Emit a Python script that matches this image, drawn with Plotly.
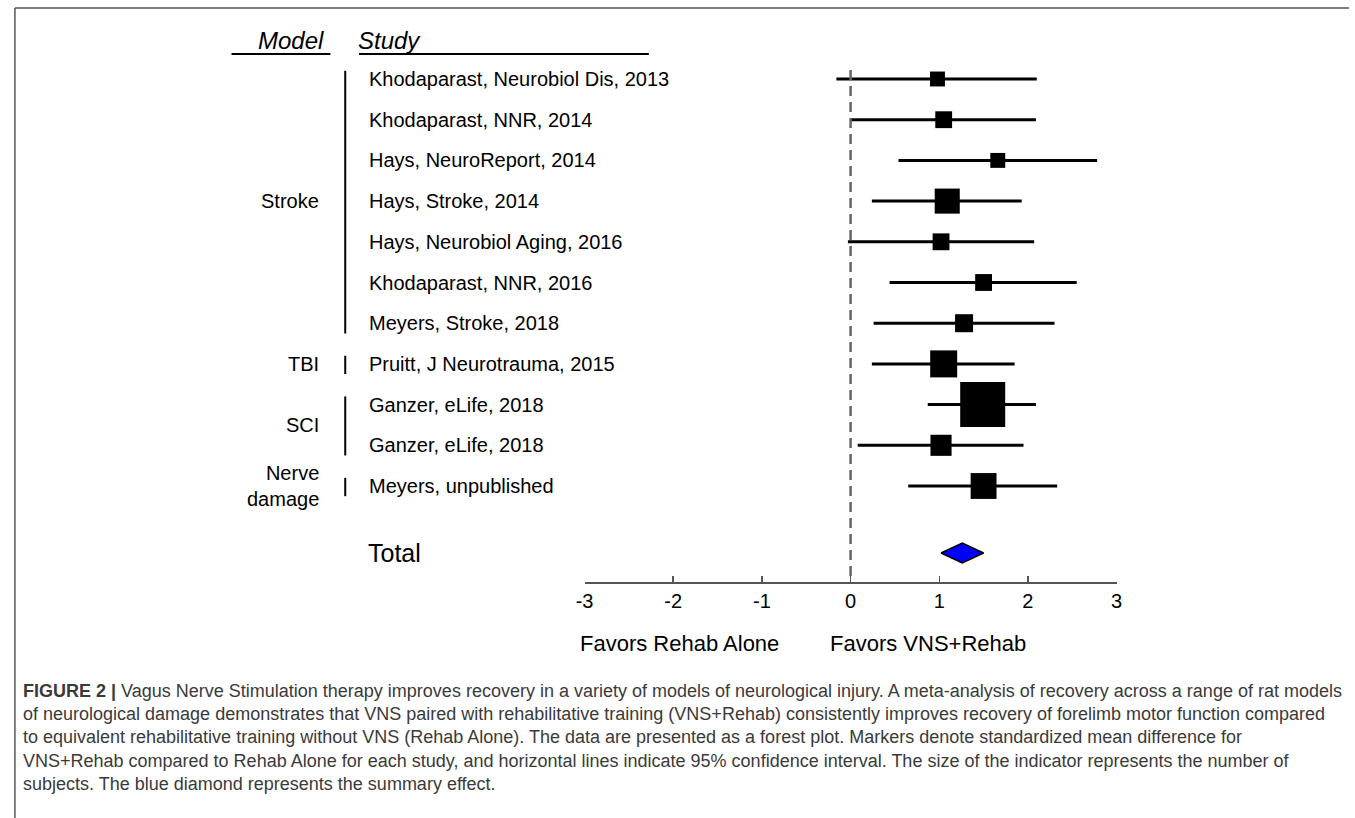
import numpy as np
import plotly.graph_objects as go

# === Data ===
studies = [
    "Khodaparast, Neurobiol Dis, 2013",
    "Khodaparast, NNR, 2014",
    "Hays, NeuroReport, 2014",
    "Hays, Stroke, 2014",
    "Hays, Neurobiol Aging, 2016",
    "Khodaparast, NNR, 2016",
    "Meyers, Stroke, 2018",
    "Pruitt, J Neurotrauma, 2015",
    "Ganzer, eLife, 2018",
    "Ganzer, eLife, 2018",
    "Meyers, unpublished",
]
smd = [0.98, 1.05, 1.66, 1.09, 1.02, 1.50, 1.28, 1.05, 1.49, 1.02, 1.50]
ci_lo = [-0.16, 0.00, 0.54, 0.24, -0.03, 0.44, 0.26, 0.24, 0.87, 0.08, 0.65]
ci_hi = [2.10, 2.09, 2.78, 1.93, 2.07, 2.55, 2.30, 1.85, 2.09, 1.95, 2.33]
n_subjects = [11, 14, 11, 31, 14, 14, 16, 36, 100, 22, 33]

# model groups: label, first row, last row (1-based)
groups = [
    ("Stroke", 1, 7),
    ("TBI", 8, 8),
    ("SCI", 9, 10),
    ("Nerve<br>damage", 11, 11),
]

total_smd = 1.26
total_lo = 1.02
total_hi = 1.50

x_ticks = [-3, -2, -1, 0, 1, 2, 3]

# === Layout constants (pixels) ===
W, H = 1355, 818
ROW0_PX = 79        # first row centre
ROW_PX = 40.7       # row spacing
TOTAL_PX = 553
AXIS_PX = 582
X_LEFT_PX, X_RIGHT_PX = 582, 1120
FONT = "Liberation Sans, Arial, Helvetica, sans-serif"


def row_val(px):
    return 1 + (px - ROW0_PX) / ROW_PX


def px_x(px):
    return px / W


def px_y(px):
    return 1 - px / H


rows = list(range(1, len(studies) + 1))
total_row = row_val(TOTAL_PX)
diamond_h = 10 / ROW_PX

fig = go.Figure()

# confidence intervals
fig.add_trace(go.Scatter(
    x=smd,
    y=rows,
    mode="markers",
    marker=dict(size=1, color="black", opacity=0),
    error_x=dict(type="data", symmetric=False,
                 array=[h - m for h, m in zip(ci_hi, smd)],
                 arrayminus=[m - l for m, l in zip(smd, ci_lo)],
                 color="black", thickness=3, width=0),
    hoverinfo="skip",
    showlegend=False,
))

# study markers (size ~ number of subjects)
fig.add_trace(go.Scatter(
    x=smd,
    y=rows,
    mode="markers",
    marker=dict(symbol="square", color="#000000", opacity=1,
                size=[4.5 * np.sqrt(n) for n in n_subjects],
                line=dict(width=0, color="#000000")),
    hoverinfo="skip",
    showlegend=False,
))

# summary diamond
fig.add_trace(go.Scatter(
    x=[total_lo, total_smd, total_hi, total_smd, total_lo],
    y=[total_row, total_row - diamond_h, total_row, total_row + diamond_h, total_row],
    mode="lines",
    fill="toself",
    fillcolor="#0000ff",
    line=dict(color="black", width=1.5),
    hoverinfo="skip",
    showlegend=False,
))

# study labels
for r, s in zip(rows, studies):
    fig.add_annotation(x=px_x(362), xref="paper", y=r, yref="y", text=s,
                       showarrow=False, xanchor="left", yanchor="middle",
                       font=dict(family=FONT, size=20, color="black"))

# model labels and bars
for label, first, last in groups:
    fig.add_annotation(x=px_x(315), xref="paper", y=(first + last) / 2, yref="y",
                       text=label, showarrow=False, xanchor="right",
                       yanchor="middle", align="right",
                       font=dict(family=FONT, size=20, color="black"))
    fig.add_shape(type="line", xref="paper", yref="y",
                  x0=px_x(340), x1=px_x(340), y0=first - 0.2, y1=last + 0.25,
                  line=dict(color="black", width=2))

fig.add_annotation(x=px_x(361), xref="paper", y=total_row, yref="y", text="Total",
                   showarrow=False, xanchor="left", yanchor="middle",
                   font=dict(family=FONT, size=25, color="black"))

# headers
fig.add_annotation(x=px_x(321), xref="paper", y=px_y(40), yref="paper",
                   text="<i>Model</i>", showarrow=False, xanchor="right",
                   yanchor="middle", font=dict(family=FONT, size=24, color="black"))
fig.add_annotation(x=px_x(351), xref="paper", y=px_y(40), yref="paper",
                   text="<i>Study</i>", showarrow=False, xanchor="left",
                   yanchor="middle", font=dict(family=FONT, size=24, color="black"))
for x0, x1 in [(225, 325), (354, 647)]:
    fig.add_shape(type="line", xref="paper", yref="paper",
                  x0=px_x(x0), x1=px_x(x1), y0=px_y(54), y1=px_y(54),
                  line=dict(color="black", width=2))

# zero line
fig.add_shape(type="line", xref="x", yref="paper", x0=0, x1=0,
              y0=px_y(70), y1=px_y(580),
              line=dict(color="#666666", width=2.5, dash="10px,6px"))

# favours labels
fig.add_annotation(x=px_x(678), xref="paper", y=px_y(658), yref="paper",
                   text="Favors Rehab Alone", showarrow=False,
                   font=dict(family=FONT, size=22, color="black"))
fig.add_annotation(x=px_x(1030), xref="paper", y=px_y(658), yref="paper",
                   text="Favors VNS+Rehab", showarrow=False,
                   font=dict(family=FONT, size=22, color="black"))

# figure frame (top and left)
fig.add_shape(type="line", xref="paper", yref="paper", x0=px_x(6), x1=1,
              y0=px_y(8), y1=px_y(8), line=dict(color="#555555", width=1.5))
fig.add_shape(type="line", xref="paper", yref="paper", x0=px_x(6), x1=px_x(6),
              y0=px_y(8), y1=0, line=dict(color="#555555", width=1.5))

# caption
caption = [
    "<b>FIGURE 2 |</b> Vagus Nerve Stimulation therapy improves recovery in a variety of models of neurological injury. A meta-analysis of recovery across a range of rat models",
    "of neurological damage demonstrates that VNS paired with rehabilitative training (VNS+Rehab) consistently improves recovery of forelimb motor function compared",
    "to equivalent rehabilitative training without VNS (Rehab Alone). The data are presented as a forest plot. Markers denote standardized mean difference for",
    "VNS+Rehab compared to Rehab Alone for each study, and horizontal lines indicate 95% confidence interval. The size of the indicator represents the number of",
    "subjects. The blue diamond represents the summary effect.",
]
for i, line in enumerate(caption):
    fig.add_annotation(x=px_x(12), xref="paper", y=px_y(691 + 23.2 * i), yref="paper",
                       text=line, showarrow=False, xanchor="left", yanchor="middle",
                       font=dict(family=FONT, size=18, color="#3a3a3a"))

fig.update_layout(
    width=W, height=H,
    margin=dict(l=0, r=0, t=0, b=0),
    paper_bgcolor="white",
    plot_bgcolor="white",
    showlegend=False,
    xaxis=dict(
        domain=[px_x(X_LEFT_PX), px_x(X_RIGHT_PX)],
        range=[-3, 3],
        tickvals=x_ticks,
        ticktext=[str(t) for t in x_ticks],
        showgrid=False, zeroline=False,
        showline=True, linecolor="#555555", linewidth=1.5,
        ticks="inside", ticklen=6, tickwidth=1.5, tickcolor="#555555",
        tickfont=dict(family=FONT, size=20, color="black"),
        anchor="free", position=px_y(AXIS_PX),
        ticklabelstandoff=0,
        fixedrange=True,
    ),
    yaxis=dict(
        domain=[0, 1],
        range=[row_val(H), row_val(0)],
        visible=False,
        fixedrange=True,
    ),
)

# drop the default page margin so the figure fills the window exactly
fig.write_html(
    "out.html",
    config={"displayModeBar": False, "staticPlot": True},
    post_script="document.body.style.margin='0';"
                "document.documentElement.style.overflow='hidden';",
)
